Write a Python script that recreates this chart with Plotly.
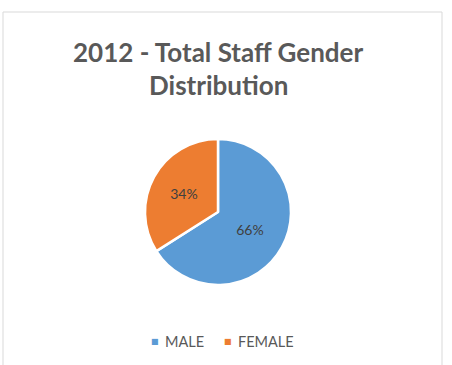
import plotly.graph_objects as go

labels = ["MALE", "FEMALE"]
values = [66, 34]
colors = ["#5B9BD5", "#ED7D31"]
title_lines = ["2012 - Total Staff Gender", "Distribution"]

W, H = 452, 365
FONT = "Lato"

fig = go.Figure(go.Pie(
    labels=labels, values=values, sort=False, direction="clockwise", rotation=0,
    marker=dict(colors=colors, line=dict(color="white", width=2.5)),
    textinfo="percent", texttemplate="%{percent:.0%}", textposition="inside",
    insidetextfont=dict(family=FONT, size=14, color="#404040"),
    domain=dict(x=[145/W, 291/W], y=[1-285/H, 1-139/H]),
    hoverinfo="label+percent",
    showlegend=False,
))

for txt, ypx in zip(title_lines, [52, 85]):
    fig.add_annotation(text="<b>%s</b>" % txt, x=218/W, y=1-ypx/H, xref="paper", yref="paper",
                       xanchor="center", yanchor="middle", showarrow=False,
                       font=dict(family=FONT, size=26, color="#595959"))

# legend (markers + labels)
legend_marker_x = [155, 228]
legend_text_x = [163, 236]
for lab, col, mx, tx in zip(labels, colors, legend_marker_x, legend_text_x):
    fig.add_annotation(text="■", x=mx/W, y=1-341/H, xref="paper", yref="paper",
                       xanchor="center", yanchor="middle", showarrow=False,
                       font=dict(family="DejaVu Sans", size=8, color=col))
    fig.add_annotation(text=lab, x=tx/W, y=1-341/H, xref="paper", yref="paper",
                       xanchor="left", yanchor="middle", showarrow=False,
                       font=dict(family=FONT, size=14.5, color="#595959"))

fig.add_shape(type="rect", xref="paper", yref="paper", x0=3/W, x1=442/W, y0=-0.05, y1=1-12/H,
              line=dict(color="#D9D9D9", width=1), fillcolor="rgba(0,0,0,0)", layer="below")

fig.update_layout(
    width=W, height=H, margin=dict(l=0, r=0, t=0, b=0),
    paper_bgcolor="white", plot_bgcolor="white",
    showlegend=False,
)

fig.write_html("out.html")
